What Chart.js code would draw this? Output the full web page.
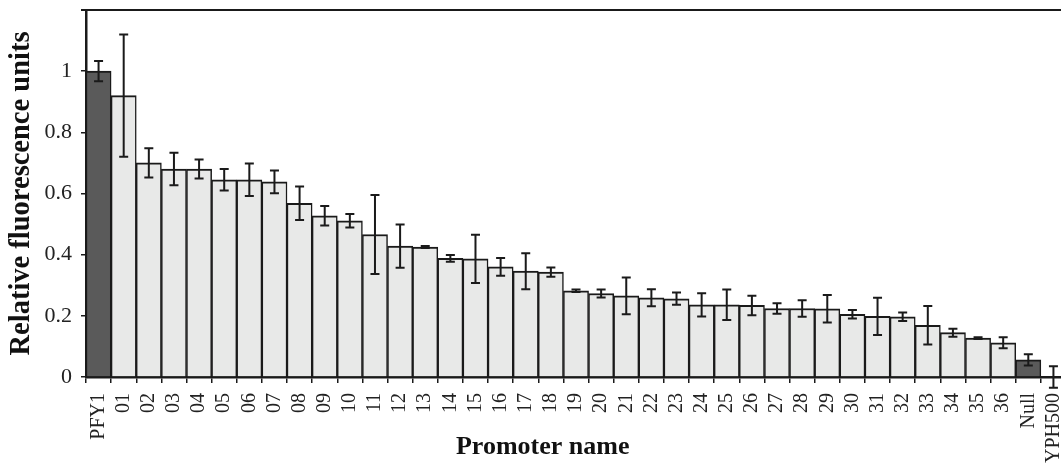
<!DOCTYPE html>
<html><head><meta charset="utf-8">
<script src="https://cdn.jsdelivr.net/npm/chart.js@4.4.1/dist/chart.umd.min.js"></script>
<style>html,body{margin:0;padding:0;overflow:hidden;background:#fff}#wrap{width:1080px;height:467px}</style>
</head><body><div id="wrap"><canvas id="c" width="1080" height="467"></canvas></div>
<script>
const categories = ['PFY1','01','02','03','04','05','06','07','08','09','10','11','12','13','14','15','16','17','18','19','20','21','22','23','24','25','26','27','28','29','30','31','32','33','34','35','36','Null','YPH500'];
const values = [1.0, 0.92, 0.70, 0.68, 0.68, 0.645, 0.645, 0.638, 0.568, 0.527, 0.511, 0.466, 0.428, 0.425, 0.388, 0.386, 0.360, 0.346, 0.343, 0.282, 0.273, 0.265, 0.259, 0.256, 0.236, 0.236, 0.234, 0.224, 0.224, 0.223, 0.205, 0.198, 0.197, 0.169, 0.145, 0.127, 0.112, 0.056, 0.0];
const errors = [0.033, 0.2, 0.048, 0.053, 0.031, 0.035, 0.053, 0.037, 0.055, 0.032, 0.022, 0.129, 0.071, 0.003, 0.011, 0.079, 0.029, 0.059, 0.015, 0.004, 0.013, 0.06, 0.028, 0.02, 0.038, 0.05, 0.032, 0.017, 0.027, 0.045, 0.014, 0.061, 0.014, 0.063, 0.013, 0.003, 0.018, 0.018, 0.035];
const controls = ['PFY1','Null'];
const yTicks = [0, 0.2, 0.4, 0.6, 0.8, 1];
const xTitle = 'Promoter name';
const yTitle = 'Relative fluorescence units';

const INK = '#1a1a1a';

const errorBars = {
  id: 'errorBars',
  afterDatasetsDraw(chart) {
    const {ctx, scales: {x, y}} = chart;
    ctx.save();
    ctx.strokeStyle = INK;
    ctx.lineWidth = 2;
    values.forEach((v, i) => {
      const px = x.getPixelForValue(i);
      const top = y.getPixelForValue(v + errors[i]);
      const bot = y.getPixelForValue(v - errors[i]);
      ctx.beginPath();
      ctx.moveTo(px, top); ctx.lineTo(px, bot);
      ctx.moveTo(px - 4.5, top); ctx.lineTo(px + 4.5, top);
      ctx.moveTo(px - 4.5, bot); ctx.lineTo(px + 4.5, bot);
      ctx.stroke();
    });
    ctx.restore();
  }
};

const frame = {
  id: 'frame',
  afterDraw(chart) {
    const {ctx, chartArea: a} = chart;
    ctx.save();
    ctx.strokeStyle = INK;
    ctx.lineWidth = 2;
    ctx.beginPath();
    ctx.moveTo(a.left - 5, a.top);
    ctx.lineTo(a.right, a.top);
    ctx.stroke();
    // x-axis title
    ctx.fillStyle = '#111';
    ctx.font = 'bold 26px "Liberation Serif"';
    ctx.textAlign = 'center';
    ctx.textBaseline = 'middle';
    ctx.fillText(xTitle, a.left + (a.right - a.left) * 0.466, 447);
    ctx.restore();
  }
};

new Chart(document.getElementById('c'), {
  type: 'bar',
  data: {
    labels: categories,
    datasets: [{
      data: values,
      backgroundColor: (c) => controls.includes(categories[c.dataIndex]) ? '#5a5a5a' : '#e8e9e8',
      borderColor: INK,
      borderWidth: {top: 2, left: 1.5, right: 1.5, bottom: 0},
      borderSkipped: false,
      categoryPercentage: 1,
      barPercentage: 1
    }]
  },
  options: {
    responsive: false,
    animation: false,
    devicePixelRatio: 1,
    layout: {padding: {top: 10, right: 14, bottom: 0, left: 0}},
    plugins: {legend: {display: false}, tooltip: {enabled: false}},
    scales: {
      x: {
        offset: true,
        grid: {display: true, drawOnChartArea: false, offset: true, tickLength: 6, color: INK, lineWidth: 1.5},
        border: {display: true, color: INK, width: 2.5},
        ticks: {autoSkip: false, maxRotation: 90, minRotation: 90, padding: 10, color: '#222',
          font: {family: 'Liberation Serif', size: 20}},
        afterFit(s) { s.height = 90; s.paddingLeft = 0; s.paddingRight = 0; }
      },
      y: {
        min: 0, max: 1.2,
        afterBuildTicks(s) { s.ticks = yTicks.map(v => ({value: v})); },
        grid: {display: true, drawOnChartArea: false, tickLength: 5, color: INK, lineWidth: 1.5},
        border: {display: true, color: INK, width: 2.5},
        ticks: {padding: 9, color: '#222', font: {family: 'Liberation Serif', size: 22},
          callback: (v) => String(+Number(v).toFixed(1))},
        title: {display: true, text: yTitle, color: '#111',
          font: {family: 'Liberation Serif', size: 28.5, weight: 'bold'}, padding: {top: 5, bottom: 0}},
        afterFit(s) { s.width = 86; s.paddingTop = 0; s.paddingBottom = 0; }
      }
    }
  },
  plugins: [errorBars, frame]
});
</script>
</body></html>
